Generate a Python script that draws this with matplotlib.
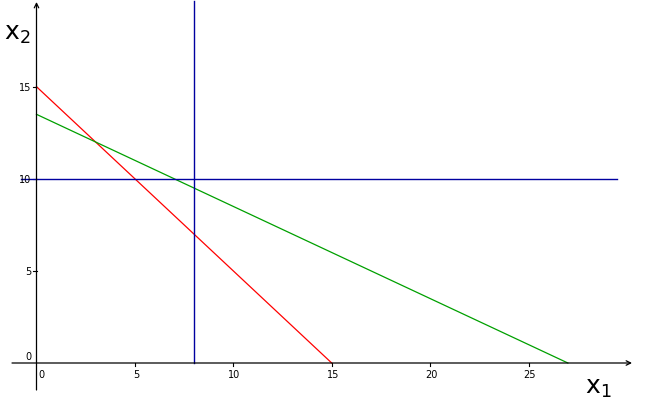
import matplotlib
matplotlib.use("Agg")
import matplotlib.pyplot as plt

# constraint lines (x1, x2 end points)
red_x = [0, 15]
red_y = [15, 0]
green_x = [0, 27]
green_y = [13.5, 0]
vline_x = 8
hline_y = 10
x_ticks = [5, 10, 15, 20, 25]
y_ticks = [5, 10, 15]

# pixel scale of the view
x_origin_px, y_origin_px = 36.5, 364
sx, sy = 19.68, 18.42
W, H = 653, 414


def px(x, y):
    return (x - x_origin_px) / sx, (y_origin_px - y) / sy


fig = plt.figure(figsize=(W / 100, H / 100), dpi=100)
ax = fig.add_axes([0, 0, 1, 1])
ax.set_xlim(px(0, 0)[0], px(W, 0)[0])
ax.set_ylim(px(0, H)[1], px(0, 0)[1])
ax.axis("off")

# axes with arrows
ax.annotate("", xy=(px(632, 0)[0], 0), xytext=(px(12, 0)[0], 0),
            arrowprops=dict(arrowstyle="->", lw=0.9, color="black",
                            mutation_scale=8, shrinkA=0, shrinkB=0))
ax.annotate("", xy=(0, px(0, 3)[1]), xytext=(0, px(0, 391)[1]),
            arrowprops=dict(arrowstyle="->", lw=0.9, color="black",
                            mutation_scale=8, shrinkA=0, shrinkB=0))

# ticks
for t in x_ticks:
    ax.plot([t, t], [0, -3 / sy], color="black", lw=0.8)
    ax.text(t + 1 / sx, -6 / sy, str(t), fontsize=7, ha="center", va="top")
for t in y_ticks:
    ax.plot([-4 / sx, 0], [t, t], color="black", lw=0.8)
    ax.text(-5.5 / sx, t, str(t), fontsize=7, ha="right", va="center")
ax.text(-5.5 / sx, 7 / sy, "0", fontsize=7, ha="right", va="center")
ax.text(5 / sx, -6 / sy, "0", fontsize=7, ha="center", va="top")

# lines
ax.plot(red_x, red_y, color="#ff0000", lw=0.9)
ax.plot(green_x, green_y, color="#00a000", lw=0.9)
ax.plot([vline_x, vline_x], [0, px(0, 2)[1]], color="#0000a0", lw=1.0)
ax.plot([px(21, 0)[0], px(617, 0)[0]], [hline_y, hline_y], color="#0000a0", lw=1.0)

# axis names
ax.text(*px(4, 40), r"$\mathregular{x_2}$", fontsize=18, ha="left", va="baseline")
ax.text(*px(585, 394), r"$\mathregular{x_1}$", fontsize=18, ha="left", va="baseline")

fig.savefig("out.png", dpi=100)
